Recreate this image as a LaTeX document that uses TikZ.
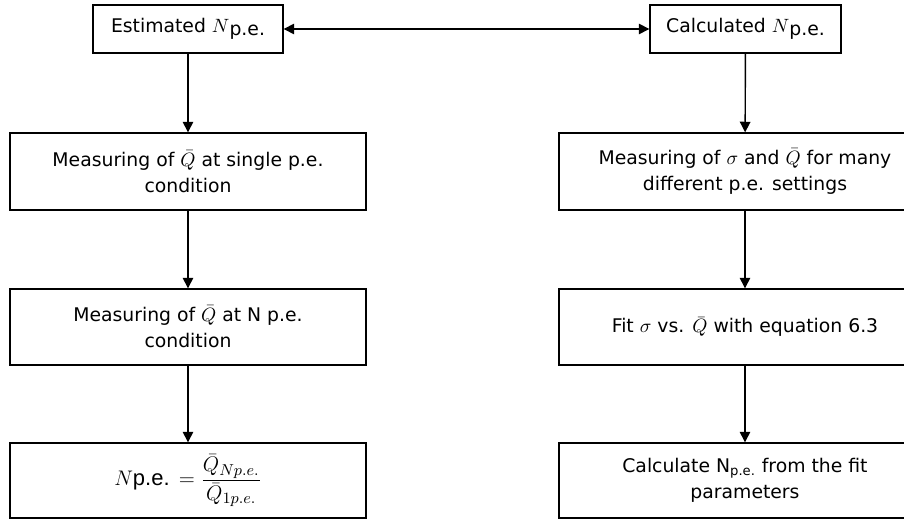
\documentclass[tikz,border=0pt]{standalone}
\usepackage{fontspec}
\setmainfont{DejaVu Sans}
\usetikzlibrary{arrows.meta}
\newcommand{\Npe}{$N$\raisebox{-0.3ex}{p.e.}}
\tikzset{box/.style={draw,line width=0.8pt,align=center,inner sep=2pt},
  tip/.tip={Triangle[length=6pt,width=6pt]},
  arr/.style={line width=0.8pt,-tip}}

\begin{document}
\begin{tikzpicture}[x=0.02cm,y=-0.02cm,font=\fontsize{10.7}{14.7}\selectfont]
  \useasboundingbox (0,0) rectangle (904,519);
  \node[box,minimum width=3.8cm,minimum height=0.96cm] (E1) at (188,29) {Estimated \Npe};
  \node[box,minimum width=3.82cm,minimum height=0.96cm] (C1) at (745.5,29) {Calculated \Npe};
  \node[box,minimum width=7.12cm,minimum height=1.54cm] (E2) at (188,171.5)
    {Measuring of $\bar{Q}$ at single p.e.\\condition};
  \node[box,minimum width=7.12cm,minimum height=1.52cm] (E3) at (188,327)
    {Measuring of $\bar{Q}$ at N p.e.\\condition};
  \node[box,minimum width=7.12cm,minimum height=1.5cm,font=\fontsize{12.5}{15}\selectfont] (E4) at (188,480.5)
    {$N${\fontspec{Liberation Sans}p.e.} $=\displaystyle\frac{\bar{Q}_{Np.e.}}{\bar{Q}_{1p.e.}}$};
  \node[box,minimum width=7.44cm,minimum height=1.54cm] (C2) at (745,171.5)
    {Measuring of $\sigma$ and $\bar{Q}$ for many\\different p.e. settings};
  \node[box,minimum width=7.44cm,minimum height=1.52cm] (C3) at (745,327)
    {Fit $\sigma$ vs. $\bar{Q}$ with equation 6.3};
  \node[box,minimum width=7.44cm,minimum height=1.5cm] (C4) at (745,480.5)
    {Calculate N\textsubscript{p.e.} from the fit\\parameters};
  \draw[arr,tip-tip] (E1) -- (C1);
  \draw[arr] (E1) -- (E2);
  \draw[arr] (E2) -- (E3);
  \draw[arr] (E3) -- (E4);
  \draw[arr] (C1) -- (C2);
  \draw[arr] (C2) -- (C3);
  \draw[arr] (C3) -- (C4);
\end{tikzpicture}
\end{document}
